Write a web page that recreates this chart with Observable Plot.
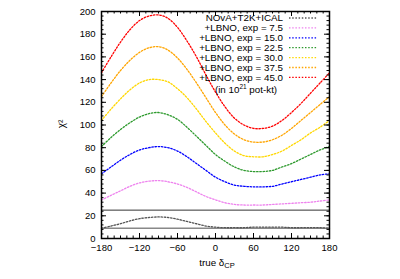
<!DOCTYPE html>
<html><head><meta charset="utf-8">
<script src="https://cdn.jsdelivr.net/npm/d3@7"></script>
<script src="https://cdn.jsdelivr.net/npm/@observablehq/plot@0.6"></script>
<style>
body{margin:0;background:#fff;}
#wrap{position:relative;width:400px;height:279px;overflow:hidden;}
</style></head><body><div id="wrap"></div>
<script>
// true delta_CP (degrees)
const delta = [-180,-165,-150,-135,-120,-105,-90,-75,-60,-45,-30,-15,0,15,30,45,60,75,90,105,120,135,150,165,180];
const base  = [9,11,13,15.5,17.5,18.5,19,18.5,17,15,13,11,10,9.5,9.5,9.5,10,10,10,10,9.5,9.5,9.5,9.5,9];
const exp75 = [34,38,42,46,49,50.5,51,50,48,45,41,37,34,31.5,30,29.5,29.5,29.5,30,30.5,31,31.5,32,33,34];
const exp150= [57,63,69,74,78,80,81,80,77,72,66,60,54,50,47,46,45.5,45.5,46,48,50,52,54,56,57];
const exp225= [81,89,96,102,107,110,111,109,105,98,90,82,74,68,63,60,59,59,60,63,66,70,74,78,81];
const exp300= [104,114,123,131,137,140,140,138,132,124,114,103,93,84,77,73,72,72,74,77,82,87,93,98,104];
const exp375= [125,137,148,157,164,168,169,166,159,149,137,124,111,100,92,87,85,85,87,91,97,104,111,118,125];
const exp450= [146,160,173,184,192,196,197,194,186,174,160,144,129,116,106,100,97,97,99,104,111,119,128,137,146];

const seriesNames = ["NOvA+T2K+ICAL","+LBNO, exp = 7.5","+LBNO, exp = 15.0","+LBNO, exp = 22.5","+LBNO, exp = 30.0","+LBNO, exp = 37.5","+LBNO, exp = 45.0"];
const seriesValues = [base, exp75, exp150, exp225, exp300, exp375, exp450];
const seriesColors = ["#555555","#ee82ee","#0000ff","#2e9a2e","#ffd700","#ffa500","#ff0000"];

const refLines = [25, 9];
const xTicks = [-180,-120,-60,0,60,120,180];
const yTicks = [0,20,40,60,80,100,120,140,160,180,200];

const W=400,H=279, ml=101, mr=71, mt=11, mb=41;
const fh = H-mt-mb, fw = W-ml-mr;
const xMinor = d3.range(-180,181,10);
const yMinor = d3.range(0,201,4);

const dash = "1.5 1.7";
const marks = [
  Plot.axisX(xTicks,{tickSize:0, tickPadding:6, label:null, fontSize:9.5}),
  Plot.axisY(yTicks,{tickSize:0, tickPadding:6, label:null, fontSize:9.5}),
  Plot.ruleY([refLines[0]],{stroke:"#333", strokeWidth:1}),
  Plot.ruleY([refLines[1]],{stroke:"#888", strokeWidth:1.4}),
];
seriesValues.forEach((vals,i)=>{
  const rows = delta.map((d,j)=>({d, v: vals[j]}));
  marks.push(Plot.line(rows,{x:"d",y:"v",stroke:seriesColors[i],strokeWidth:1.3,strokeDasharray:dash,curve:"catmull-rom"}));
});
marks.push(
  Plot.tickX(xTicks,{x:d=>d, insetTop:fh-5, stroke:"#000"}),
  Plot.tickX(xTicks,{x:d=>d, insetBottom:fh-5, stroke:"#000"}),
  Plot.tickX(xMinor,{x:d=>d, insetTop:fh-2.5, stroke:"#000"}),
  Plot.tickX(xMinor,{x:d=>d, insetBottom:fh-2.5, stroke:"#000"}),
  Plot.tickY(yTicks,{y:d=>d, insetRight:fw-5, stroke:"#000"}),
  Plot.tickY(yTicks,{y:d=>d, insetLeft:fw-5, stroke:"#000"}),
  Plot.tickY(yMinor,{y:d=>d, insetRight:fw-2.5, stroke:"#000"}),
  Plot.tickY(yMinor,{y:d=>d, insetLeft:fw-2.5, stroke:"#000"}),
  Plot.frame({stroke:"#000", strokeWidth:1.5})
);

const chart = Plot.plot({
  width:W, height:H, marginLeft:ml, marginRight:mr, marginTop:mt, marginBottom:mb,
  x:{domain:[-180,180]}, y:{domain:[0,200]},
  style:{fontFamily:"'Liberation Sans', Arial, sans-serif", fontSize:"9.5px", color:"#000", background:"#fff"},
  marks
});
document.getElementById("wrap").appendChild(chart);

// overlay legend and labels
const svg = d3.select(chart);
const g = svg.append("g").attr("font-family","'Liberation Sans', Arial, sans-serif").attr("fill","#000");
const rowY0 = 18, rowDy = 9.9;
seriesNames.forEach((name,i)=>{
  const y = rowY0 + i*rowDy;
  g.append("text").attr("x",283).attr("y",y).attr("dy","0.35em").attr("text-anchor","end").attr("font-size",9.8).text(name);
  g.append("line").attr("x1",289).attr("x2",317).attr("y1",y).attr("y2",y)
    .attr("stroke",seriesColors[i]).attr("stroke-width",1.3).attr("stroke-dasharray",dash);
});
const note = g.append("text").attr("x",246).attr("y",rowY0+7*rowDy+2).attr("dy","0.35em").attr("text-anchor","middle").attr("font-size",9.8);
note.append("tspan").text("(in 10");
note.append("tspan").attr("font-size",6.5).attr("dy","-0.55em").text("21");
note.append("tspan").attr("dy","0.4em").text(" pot-kt)");

const xl = g.append("text").attr("x",217).attr("y",266).attr("text-anchor","middle").attr("font-size",9.8);
xl.append("tspan").text("true δ");
xl.append("tspan").attr("font-size",7.5).attr("dy","0.3em").text("CP");

g.append("text").attr("transform","translate(65,124) rotate(-90)").attr("text-anchor","middle").attr("font-size",10).text("χ²");
</script></body></html>
